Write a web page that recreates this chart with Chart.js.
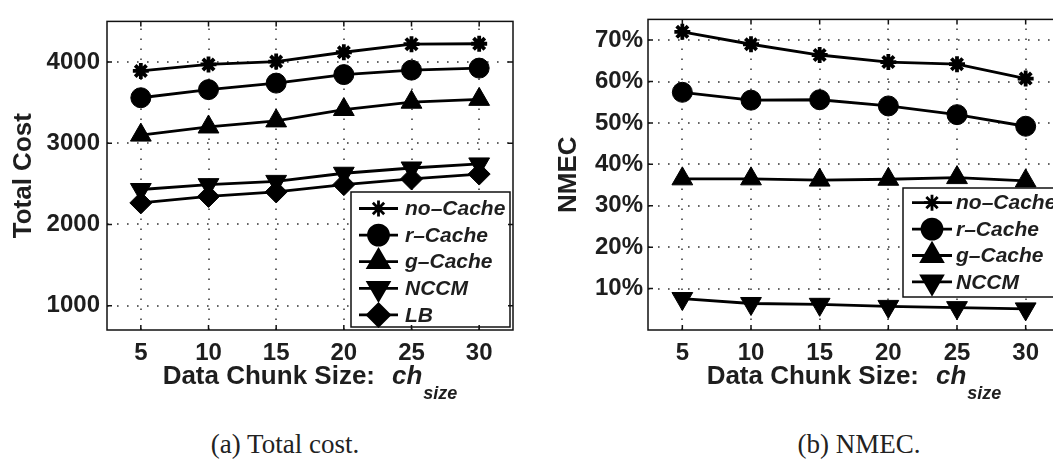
<!DOCTYPE html>
<html>
<head>
<meta charset="utf-8">
<script src="https://cdn.jsdelivr.net/npm/chart.js@4.4.1/dist/chart.umd.min.js"></script>
<style>
  html, body { margin: 0; padding: 0; background: #fff; overflow: hidden; width: 1053px; height: 470px; }
  .panel { position: absolute; top: 0; }
  #costPanel { left: 0; }
  #nmecPanel { left: 530px; }
  .caption {
    position: absolute; top: 429px; transform: translateX(-50%); white-space: nowrap;
    font-family: "Liberation Serif", serif; font-size: 27px; color: #222;
  }
</style>
</head>
<body>
<div class="panel" id="costPanel"><canvas id="costChart" width="530" height="420"></canvas></div>
<div class="panel" id="nmecPanel"><canvas id="nmecChart" width="545" height="420"></canvas></div>
<div class="caption" style="left:285px;">(a) Total cost.</div>
<div class="caption" style="left:859px;">(b) NMEC.</div>
<script>
const chunkSizes = [5, 10, 15, 20, 25, 30];
const seriesNames = ['no–Cache', 'r–Cache', 'g–Cache', 'NCCM', 'LB'];

// total cost per scheme
const costNoCache = [3890, 3970, 4005, 4120, 4220, 4225];
const costRCache  = [3560, 3660, 3740, 3845, 3900, 3925];
const costGCache  = [3100, 3200, 3275, 3415, 3505, 3540];
const costNCCM    = [2430, 2490, 2530, 2630, 2695, 2745];
const costLB      = [2265, 2345, 2400, 2490, 2560, 2620];

// NMEC in percent
const nmecNoCache = [72.0, 69.0, 66.4, 64.7, 64.2, 60.7];
const nmecRCache  = [57.4, 55.5, 55.6, 54.1, 52.0, 49.2];
const nmecGCache  = [36.5, 36.5, 36.2, 36.4, 36.8, 36.0];
const nmecNCCM    = [7.6, 6.4, 6.2, 5.7, 5.4, 5.1];

const xTicks    = [5, 10, 15, 20, 25, 30];
const costTicks = [1000, 2000, 3000, 4000];
const nmecTicks = [10, 20, 30, 40, 50, 60, 70];

const INK = '#1e1e1e';
const FONT = '"Liberation Sans", Arial, sans-serif';
Chart.defaults.font.family = FONT;
Chart.defaults.color = INK;

const markers = [
  { pointStyle: 'star',     pointRadius: 8,  pointBorderWidth: 3.8, pointRotation: 0 },
  { pointStyle: 'circle',   pointRadius: 10, pointBorderWidth: 1,   pointRotation: 0 },
  { pointStyle: 'triangle', pointRadius: 12, pointBorderWidth: 1,   pointRotation: 0 },
  { pointStyle: 'triangle', pointRadius: 12, pointBorderWidth: 1,   pointRotation: 180 },
  { pointStyle: 'rectRot',  pointRadius: 11, pointBorderWidth: 1,   pointRotation: 0 },
];

function series(values, i) {
  return {
    label: seriesNames[i],
    data: values.map((v, k) => ({ x: chunkSizes[k], y: v })),
    borderColor: '#000',
    borderWidth: 2.8,
    pointBackgroundColor: '#000',
    pointBorderColor: '#000',
    fill: false,
    tension: 0,
    ...markers[i],
  };
}

function drawLegend(chart, lg) {
  const { ctx } = chart;
  ctx.save();
  ctx.fillStyle = '#fff';
  ctx.strokeStyle = '#111';
  ctx.lineWidth = 1.5;
  ctx.fillRect(lg.x, lg.y, lg.w, lg.h);
  ctx.strokeRect(lg.x, lg.y, lg.w, lg.h);
  ctx.font = `italic bold 21px ${FONT}`;
  ctx.textBaseline = 'middle';
  chart.data.datasets.forEach((ds, i) => {
    const y = lg.row0 + i * lg.rowGap;
    const x0 = lg.x + lg.line0, x1 = lg.x + lg.line1;
    ctx.strokeStyle = '#000';
    ctx.lineWidth = 2.8;
    ctx.beginPath();
    ctx.moveTo(x0, y);
    ctx.lineTo(x1, y);
    ctx.stroke();
    ctx.fillStyle = '#000';
    Chart.helpers.drawPoint(ctx, {
      pointStyle: ds.pointStyle,
      radius: ds.pointRadius,
      rotation: ds.pointRotation,
      borderWidth: ds.pointBorderWidth,
    }, (x0 + x1) / 2, y);
    ctx.fillStyle = INK;
    ctx.fillText(ds.label, lg.x + lg.text, y + 1);
  });
  ctx.restore();
}

function drawXTitle(chart) {
  const { ctx, chartArea: a } = chart;
  const parts = [
    { t: 'Data Chunk Size:', f: 'bold 26px', dy: 0 },
    { t: 'ch', f: 'italic bold 26px', dy: 0, gap: 17 },
    { t: 'size', f: 'italic bold 18px', dy: 15, gap: 1 },
  ];
  ctx.save();
  let total = 0;
  parts.forEach(p => {
    ctx.font = `${p.f} ${FONT}`;
    p.w = ctx.measureText(p.t).width;
    total += p.w + (p.gap || 0);
  });
  let x = (a.left + a.right) / 2 - total / 2;
  ctx.fillStyle = INK;
  ctx.textBaseline = 'alphabetic';
  parts.forEach(p => {
    x += p.gap || 0;
    ctx.font = `${p.f} ${FONT}`;
    ctx.fillText(p.t, x, a.bottom + 54 + p.dy);
    x += p.w;
  });
  ctx.restore();
}

// dotted grid, box, inward tick marks, legend and x title
const framePlugin = {
  id: 'frame',
  beforeDatasetsDraw(chart, args, opts) {
    const { ctx, chartArea: a, scales } = chart;
    ctx.save();
    ctx.strokeStyle = '#333';
    ctx.lineWidth = 1.5;
    ctx.setLineDash([1.6, 8.4]);
    xTicks.forEach(v => {
      const px = Math.round(scales.x.getPixelForValue(v));
      ctx.beginPath();
      ctx.moveTo(px, a.bottom); ctx.lineTo(px, a.top);
      ctx.stroke();
    });
    opts.yTicks.forEach(v => {
      const py = Math.round(scales.y.getPixelForValue(v));
      ctx.beginPath();
      ctx.moveTo(a.left, py); ctx.lineTo(a.right, py);
      ctx.stroke();
    });
    ctx.restore();
  },
  afterDatasetsDraw(chart, args, opts) {
    drawLegend(chart, opts.legend);
  },
  afterDraw(chart, args, opts) {
    const { ctx, chartArea: a, scales } = chart;
    ctx.save();
    ctx.strokeStyle = '#111';
    ctx.lineWidth = 1.5;
    ctx.strokeRect(a.left, a.top, a.right - a.left, a.bottom - a.top);
    ctx.beginPath();
    xTicks.forEach(v => {
      const px = scales.x.getPixelForValue(v);
      ctx.moveTo(px, a.bottom); ctx.lineTo(px, a.bottom - 5);
      ctx.moveTo(px, a.top);    ctx.lineTo(px, a.top + 5);
    });
    opts.yTicks.forEach(v => {
      const py = scales.y.getPixelForValue(v);
      ctx.moveTo(a.left, py);  ctx.lineTo(a.left + 5, py);
      ctx.moveTo(a.right, py); ctx.lineTo(a.right - 5, py);
    });
    ctx.stroke();
    ctx.restore();
    drawXTitle(chart);
  },
};

function makeChart(id, datasets, cfg) {
  return new Chart(document.getElementById(id), {
    type: 'line',
    data: { datasets },
    plugins: [framePlugin],
    options: {
      responsive: false,
      animation: false,
      events: [],
      layout: { padding: { top: 15, right: cfg.padRight, left: 0, bottom: 0 } },
      plugins: {
        legend: { display: false },
        tooltip: { enabled: false },
        frame: { legend: cfg.legend, yTicks: cfg.yTicks },
      },
      scales: {
        x: {
          type: 'linear',
          min: 2.5,
          max: 32.5,
          afterBuildTicks: s => { s.ticks = xTicks.map(v => ({ value: v })); },
          afterFit: s => { s.height = 90; },
          ticks: { font: { size: 24, weight: 'bold' }, color: INK, padding: 9, maxRotation: 0 },
          grid: { display: false, drawTicks: false },
          border: { display: false },
        },
        y: {
          min: cfg.yMin,
          max: cfg.yMax,
          afterBuildTicks: s => { s.ticks = cfg.yTicks.map(v => ({ value: v })); },
          afterFit: s => { s.width = cfg.yWidth; },
          ticks: {
            font: { size: 24, weight: 'bold' }, color: INK, padding: cfg.tickPad,
            callback: cfg.fmt,
          },
          title: {
            display: true, text: cfg.title, color: INK,
            font: { size: 26, weight: 'bold', lineHeight: 1 },
            padding: { top: cfg.titlePad, bottom: 0 },
          },
          grid: { display: false, drawTicks: false },
          border: { display: false },
        },
      },
    },
  });
}

makeChart('costChart',
  [costNoCache, costRCache, costGCache, costNCCM, costLB].map(series),
  {
    yMin: 700, yMax: 4500, yTicks: costTicks, fmt: v => String(v),
    yWidth: 107, padRight: 17, tickPad: 7, title: 'Total Cost', titlePad: 11,
    legend: { x: 351, y: 192, w: 159, h: 135, row0: 208.5, rowGap: 26.6, line0: 8, line1: 47, text: 54 },
  });

makeChart('nmecChart',
  [nmecNoCache, nmecRCache, nmecGCache, nmecNCCM].map(series),
  {
    yMin: 0, yMax: 75, yTicks: nmecTicks, fmt: v => v + '%',
    yWidth: 118, padRight: 15, tickPad: 5, title: 'NMEC', titlePad: 26,
    legend: { x: 373, y: 188, w: 159, h: 109, row0: 202.7, rowGap: 26.4, line0: 9, line1: 49, text: 53 },
  });
</script>
</body>
</html>
